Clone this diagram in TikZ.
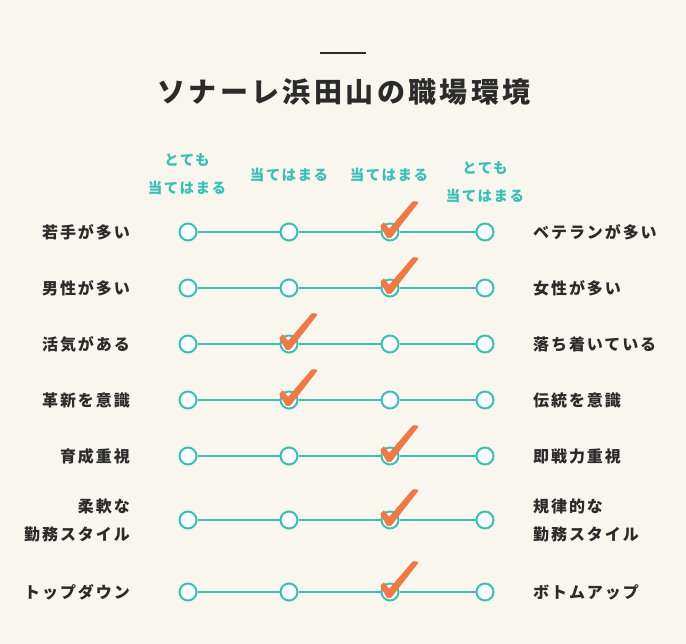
\documentclass[tikz,border=0pt]{standalone}
\usepackage{fontspec}
\setmainfont{Noto Sans CJK JP}
\usepackage{tikz}
\definecolor{SonaleBg}{RGB}{249,246,239}
\definecolor{SonaleTeal}{RGB}{59,190,181}
\definecolor{SonaleCheck}{RGB}{238,122,72}
\definecolor{SonaleText}{RGB}{43,43,43}

\begin{document}
\begin{tikzpicture}[x=1pt,y=-1pt,
  dot/.style={circle,draw=SonaleTeal,line width=2pt,fill=white,minimum size=17pt,inner sep=0pt},
  bar/.style={draw=SonaleTeal,line width=2.5pt},
  chk/.style={fill=SonaleCheck,rounded corners=1pt},
  hdr/.style={text=SonaleTeal,align=center,inner sep=0pt,font=\bfseries\fontsize{14.5}{28}\selectfont\addfontfeature{LetterSpace=10}},
  lft/.style={text=SonaleText,anchor=east,align=right,inner sep=0pt,font=\bfseries\fontsize{16}{28}\selectfont\addfontfeature{LetterSpace=12}},
  rgt/.style={text=SonaleText,anchor=west,align=left,inner sep=0pt,font=\bfseries\fontsize{16}{28}\selectfont\addfontfeature{LetterSpace=12}}]
\useasboundingbox[fill=SonaleBg] (0,0) rectangle (686,644);
% title
\coordinate (ruleL) at (320,53);
\coordinate (ruleR) at (366,53);
\draw[SonaleText,line width=2pt] (ruleL) -- (ruleR);
\node[text=SonaleText,font=\bfseries\fontsize{28}{30}\selectfont\addfontfeature{LetterSpace=12}] (title) at (344,92) {ソナーレ浜田山の職場環境};
% column heads
\node[hdr] (h1) at (187,174) {とても\\当てはまる};
\node[hdr] (h2) at (289,175) {当てはまる};
\node[hdr] (h3) at (389,175) {当てはまる};
\node[hdr] (h4) at (485,182) {とても\\当てはまる};
% rows
\foreach \i/\y/\l/\r/\c in %
{1/232/若手が多い/ベテランが多い/3,
 2/288/男性が多い/女性が多い/3,
 3/344/活気がある/落ち着いている/2,
 4/400/革新を意識/伝統を意識/2,
 5/456/育成重視/即戦力重視/3,
 6/520/{柔軟な\\勤務スタイル}/{規律的な\\勤務スタイル}/3,
 7/592/トップダウン/ボトムアップ/3} {
   \node[lft] (l\i) at (130,\y) {\l};
   \node[rgt] (r\i) at (533,\y) {\r};
   \foreach \j/\x in {1/188,2/289,3/390,4/485} {
      \node[dot] (c\i-\j) at (\x,\y) {};
   }
   \draw[bar] (c\i-1) -- (c\i-2) -- (c\i-3) -- (c\i-4);
   \fill[chk,shift={(c\i-\c.center)}] (-10,-6) -- (-6,-10) -- (-1,-3)
      -- (23,-31) -- (29,-30) -- (1,6) -- (-3,6) -- cycle;
}
\end{tikzpicture}
\end{document}
